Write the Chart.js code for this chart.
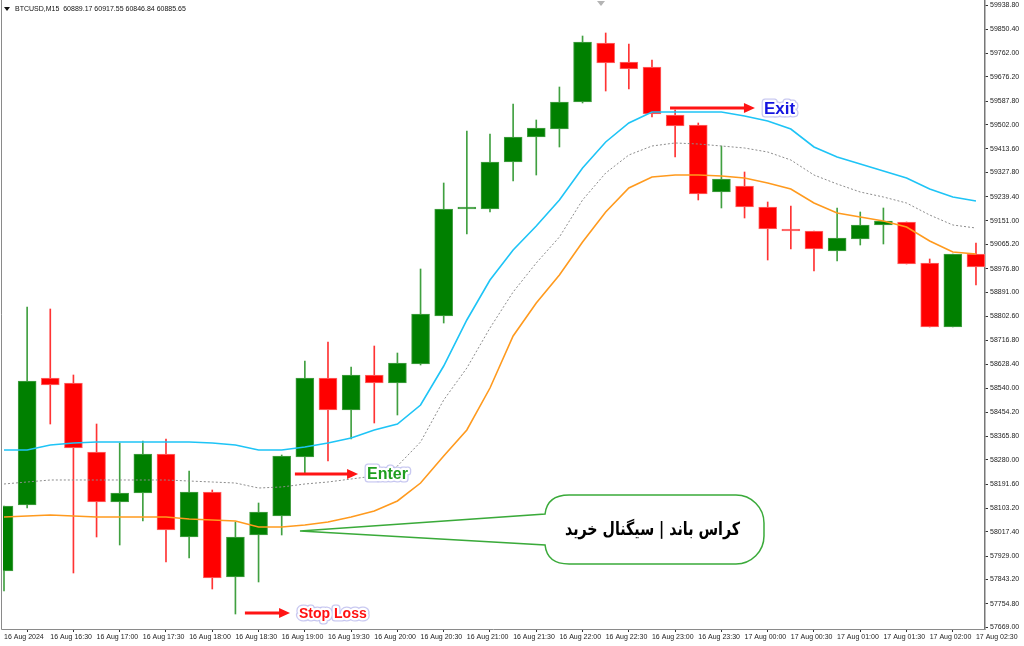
<!DOCTYPE html>
<html>
<head>
<meta charset="utf-8">
<script src="https://cdn.jsdelivr.net/npm/chart.js@4.4.1/dist/chart.umd.min.js"></script>
<style>
  html, body { margin: 0; padding: 0; background: #fff; }
  canvas { display: block; }
</style>
</head>
<body>
<canvas id="chart" width="1024" height="646"></canvas>
<script>
// BTCUSD M15 candles, 16 Aug 2024 16:00 -> 17 Aug 02:30
var opens  = [57874.4, 58115.1, 58578.3, 58560.1, 58308.4, 58126.0, 58158.9, 58301.1, 57998.4, 58162.5,
              57852.5, 58005.7, 58075.0, 58290.2, 58578.3, 58461.6, 58589.3, 58560.1, 58629.4, 58804.5,
              59194.7, 59194.7, 59366.2, 59457.3, 59486.5, 59585.0, 59800.2, 59730.9, 59712.7, 59537.6,
              59501.1, 59256.7, 59278.6, 59202.0, 59121.8, 59114.5, 59041.5, 59085.3, 59136.4, 59147.3,
              58997.8, 58764.3, 59030.6];
var highs  = [58111.5, 58837.3, 58830.0, 58589.3, 58410.5, 58341.2, 58348.5, 58355.8, 58239.1, 58169.8,
              58053.1, 58122.4, 58297.5, 58640.3, 58709.6, 58618.4, 58695.0, 58669.5, 58975.9, 59289.6,
              59479.2, 59468.3, 59577.7, 59519.4, 59639.7, 59825.7, 59836.7, 59796.6, 59738.2, 59555.8,
              59508.4, 59424.5, 59329.7, 59220.3, 59205.7, 59114.5, 59198.4, 59183.8, 59198.4, 59147.3,
              59012.4, 59030.6, 59070.7];
var lows   = [57801.4, 58104.2, 58410.5, 57867.1, 57998.4, 57969.2, 58056.7, 57907.2, 57921.8, 57808.7,
              57717.5, 57834.3, 58005.7, 58231.8, 58275.6, 58355.8, 58414.2, 58443.4, 58625.7, 58778.9,
              59103.5, 59183.8, 59296.9, 59318.7, 59420.9, 59581.4, 59625.1, 59632.4, 59530.3, 59384.4,
              59227.6, 59198.4, 59161.9, 59008.7, 59048.8, 58968.6, 59005.1, 59063.4, 59067.1, 58994.1,
              58764.3, 58764.3, 58917.5];
var closes = [58111.5, 58567.4, 58552.8, 58323.0, 58126.0, 58158.9, 58301.1, 58023.9, 58162.5, 57848.8,
              57998.4, 58089.6, 58293.8, 58578.3, 58461.6, 58589.3, 58560.1, 58633.0, 58811.8, 59194.7,
              59202.0, 59366.2, 59457.3, 59490.2, 59585.0, 59803.8, 59727.3, 59705.4, 59541.2, 59497.5,
              59249.4, 59304.2, 59202.0, 59121.8, 59114.5, 59048.8, 59089.0, 59136.4, 59151.0, 58994.1,
              58764.3, 59030.6, 58983.2];

// bands
var upperBand  = [58315.7, 58315.7, 58333.9, 58341.2, 58344.9, 58344.9, 58344.9, 58344.9, 58344.9, 58341.2,
                  58333.9, 58315.7, 58315.7, 58326.7, 58341.2, 58359.5, 58388.7, 58410.5, 58479.8, 58622.1,
                  58789.9, 58935.8, 59045.2, 59132.7, 59227.6, 59344.3, 59439.1, 59508.4, 59548.5, 59548.5,
                  59548.5, 59548.5, 59533.9, 59515.7, 59486.5, 59420.9, 59384.4, 59358.9, 59333.3, 59307.8,
                  59267.7, 59238.5, 59223.9];
var middleBand = [58191.7, 58199.0, 58206.3, 58206.3, 58206.3, 58206.3, 58206.3, 58206.3, 58202.6, 58199.0,
                  58195.3, 58177.1, 58180.8, 58191.7, 58199.0, 58209.9, 58220.9, 58257.3, 58344.9, 58498.1,
                  58614.8, 58760.7, 58892.0, 58997.8, 59092.6, 59227.6, 59326.0, 59391.7, 59424.5, 59435.5,
                  59431.8, 59424.5, 59417.2, 59402.6, 59373.5, 59318.7, 59285.9, 59256.7, 59238.5, 59216.6,
                  59172.8, 59136.4, 59125.4];
var lowerBand  = [58071.3, 58075.0, 58078.6, 58075.0, 58071.3, 58071.3, 58071.3, 58071.3, 58064.0, 58060.4,
                  58056.7, 58034.9, 58034.9, 58042.2, 58053.1, 58071.3, 58093.2, 58129.7, 58195.3, 58293.8,
                  58388.7, 58541.8, 58731.5, 58851.9, 58954.0, 59074.4, 59183.8, 59271.3, 59311.4, 59318.7,
                  59318.7, 59315.1, 59307.8, 59289.6, 59267.7, 59216.6, 59180.1, 59165.6, 59151.0, 59129.1,
                  59078.0, 59037.9, 59030.6];

// one label every 2 bars (30 min)
var timeLabels = ['16 Aug 2024', '16 Aug 16:30', '16 Aug 17:00', '16 Aug 17:30', '16 Aug 18:00', '16 Aug 18:30',
                  '16 Aug 19:00', '16 Aug 19:30', '16 Aug 20:00', '16 Aug 20:30', '16 Aug 21:00', '16 Aug 21:30',
                  '16 Aug 22:00', '16 Aug 22:30', '16 Aug 23:00', '16 Aug 23:30', '17 Aug 00:00', '17 Aug 00:30',
                  '17 Aug 01:00', '17 Aug 01:30', '17 Aug 02:00', '17 Aug 02:30'];
var priceTicks = [59938.80, 59850.40, 59762.00, 59676.20, 59587.80, 59502.00, 59413.60, 59327.80, 59239.40,
                  59151.00, 59065.20, 58976.80, 58891.00, 58802.60, 58716.80, 58628.40, 58540.00, 58454.20,
                  58365.80, 58280.00, 58191.60, 58103.20, 58017.40, 57929.00, 57843.20, 57754.80, 57669.00];

var headerText = 'BTCUSD,M15  60889.17 60917.55 60846.84 60885.65';

// arrows + labels, placed in bar index / price units
var notes = [
    { text: 'Enter', color: '#1f9e1f', size: 16, from: 12.57, to: 15.3, price: 58228 },
    { text: 'Exit', color: '#1515e0', size: 17, from: 28.78, to: 32.45, price: 59563 },
    { text: 'Stop Loss', color: '#ff1010', size: 14, from: 10.41, to: 12.36, price: 57721 }
];
var callout = { text: 'کراس باند | سیگنال خرید', tipX: 12.79, tipPrice: 58020,
                left: 23.38, right: 32.84, top: 58151.6, bottom: 57899.9 };

var UP = '#008000', DOWN = '#ff0000';
function isUp(i) { return closes[i] >= opens[i]; }

var wickData = [], bodyData = [];
for (var i = 0; i < opens.length; i++) {
    wickData.push({ x: i, y: [lows[i], highs[i]] });
    bodyData.push({ x: i, y: [opens[i], closes[i]] });
}
function band(arr) { return arr.map(function (v, i) { return { x: i, y: v }; }); }

Chart.defaults.font.family = '"Liberation Sans", Arial, sans-serif';
Chart.defaults.font.size = 7;
Chart.defaults.color = '#222';

var overlay = {
    id: 'overlay',
    afterDatasetsDraw: function (chart) {
        var c = chart.ctx, xs = chart.scales.x, ys = chart.scales.y;
        c.save();

        // speech bubble
        var L = xs.getPixelForValue(callout.left), R = xs.getPixelForValue(callout.right);
        var T = ys.getPixelForValue(callout.top), B = ys.getPixelForValue(callout.bottom);
        var tx = xs.getPixelForValue(callout.tipX), ty = ys.getPixelForValue(callout.tipPrice);
        var r = 28, j = 19;
        c.beginPath();
        c.moveTo(tx, ty);
        c.lineTo(L, T + j);
        c.quadraticCurveTo(L + 2, T, L + 24, T);
        c.lineTo(R - r, T);
        c.arcTo(R, T, R, (T + B) / 2, r);
        c.arcTo(R, B, R - r, B, r);
        c.lineTo(L + 24, B);
        c.quadraticCurveTo(L + 2, B, L, B - j);
        c.closePath();
        c.fillStyle = '#fff';
        c.fill();
        c.strokeStyle = '#3aaa3a';
        c.lineWidth = 1.5;
        c.stroke();

        // text squeezed to fit like the original
        c.fillStyle = '#000';
        c.font = 'bold 18px "DejaVu Sans"';
        c.textAlign = 'center';
        c.textBaseline = 'middle';
        c.direction = 'rtl';
        var w = c.measureText(callout.text).width;
        var k = Math.min(1, (R - L) * 0.8 / w);
        c.save();
        c.translate((L + R) / 2 - 2, (T + B) / 2 + 1);
        c.scale(k, 1);
        c.fillText(callout.text, 0, 0);
        c.restore();
        c.direction = 'ltr';

        // arrows with labels
        notes.forEach(function (n) {
            var x1 = xs.getPixelForValue(n.from), x2 = xs.getPixelForValue(n.to);
            var y = ys.getPixelForValue(n.price);
            c.strokeStyle = '#ff1414';
            c.fillStyle = '#ff1414';
            c.lineWidth = 3;
            c.beginPath();
            c.moveTo(x1, y);
            c.lineTo(x2 - 8, y);
            c.stroke();
            c.beginPath();
            c.moveTo(x2 - 11, y - 5);
            c.lineTo(x2, y);
            c.lineTo(x2 - 11, y + 5);
            c.closePath();
            c.fill();

            c.font = 'bold ' + n.size + 'px "Liberation Sans", Arial';
            c.textAlign = 'left';
            c.textBaseline = 'middle';
            c.lineJoin = 'round';
            var lx = x2 + 9, ly = y + 1;
            c.strokeStyle = 'rgba(195,195,240,0.9)';
            c.lineWidth = 7;
            c.strokeText(n.text, lx, ly);
            c.strokeStyle = '#fff';
            c.lineWidth = 4.5;
            c.strokeText(n.text, lx, ly);
            c.fillStyle = n.color;
            c.fillText(n.text, lx, ly);
        });
        c.restore();
    },
    afterDraw: function (chart) {
        var c = chart.ctx, a = chart.chartArea;
        c.save();
        // frame
        c.strokeStyle = '#8a8a8a';
        c.lineWidth = 1;
        c.beginPath();
        c.moveTo(1.5, 0);
        c.lineTo(1.5, a.bottom + 0.5);
        c.lineTo(a.right + 0.5, a.bottom + 0.5);
        c.stroke();
        // header
        c.fillStyle = '#111';
        c.beginPath();
        c.moveTo(4, 7); c.lineTo(10, 7); c.lineTo(7, 11);
        c.closePath();
        c.fill();
        c.font = '7px "Liberation Sans", Arial';
        c.textAlign = 'left';
        c.textBaseline = 'middle';
        c.fillText(headerText, 15, 9);
        // shift marker
        c.fillStyle = '#b4b4b4';
        c.beginPath();
        c.moveTo(597, 1); c.lineTo(605, 1); c.lineTo(601, 6);
        c.closePath();
        c.fill();
        c.restore();
    }
};

var ctx = document.getElementById('chart').getContext('2d');
var chart = new Chart(ctx, {
    type: 'bar',
    data: {
        datasets: [
            {
                label: 'Bollinger upper',
                type: 'line',
                data: band(upperBand),
                borderColor: '#1ec4f6',
                borderWidth: 1.6,
                pointRadius: 0,
                tension: 0,
                order: 0
            },
            {
                label: 'Bollinger middle',
                type: 'line',
                data: band(middleBand),
                borderColor: '#8c8c8c',
                borderWidth: 1,
                borderDash: [2, 2],
                pointRadius: 0,
                tension: 0,
                order: 0
            },
            {
                label: 'Bollinger lower',
                type: 'line',
                data: band(lowerBand),
                borderColor: '#ff9a1e',
                borderWidth: 1.6,
                pointRadius: 0,
                tension: 0,
                order: 0
            },
            {
                label: 'Body',
                data: bodyData,
                grouped: false,
                barThickness: 18,
                borderSkipped: false,
                borderWidth: 1,
                backgroundColor: function (c) { return isUp(c.dataIndex) ? UP : DOWN; },
                borderColor: function (c) { return isUp(c.dataIndex) ? '#47a047' : '#ff6a6a'; },
                clip: { left: 0, top: 0, right: 0, bottom: 0 },
                order: 1
            },
            {
                label: 'Wick',
                data: wickData,
                grouped: false,
                barThickness: 1,
                borderWidth: 0,
                backgroundColor: function (c) { return isUp(c.dataIndex) ? 'rgba(0,128,0,0.75)' : 'rgba(255,0,0,0.8)'; },
                order: 2
            }
        ]
    },
    options: {
        responsive: false,
        animation: false,
        events: [],
        layout: { padding: { left: 3, top: 1, right: 0, bottom: 0 } },
        plugins: { legend: { display: false }, tooltip: { enabled: false } },
        scales: {
            x: {
                type: 'linear',
                min: -0.043,
                max: 42.39,
                offset: false,
                border: { display: false },
                grid: { drawOnChartArea: false, drawTicks: true, tickLength: 3, color: '#333' },
                ticks: {
                    autoSkip: false,
                    maxRotation: 0,
                    align: 'start',
                    padding: 1,
                    callback: function (v) { return timeLabels[v / 2]; }
                },
                afterBuildTicks: function (s) {
                    s.ticks = timeLabels.map(function (t, k) { return { value: k * 2 }; });
                },
                afterFit: function (s) { s.height = 17; s.paddingLeft = 0; s.paddingRight = 0; }
            },
            y: {
                position: 'right',
                min: 57662.82,
                max: 59953.39,
                border: { display: true, color: '#777', width: 1.5 },
                grid: { drawOnChartArea: false, drawTicks: true, tickLength: 3, color: '#333' },
                ticks: {
                    autoSkip: false,
                    padding: 2,
                    callback: function (v) { return v.toFixed(2); }
                },
                afterBuildTicks: function (s) {
                    s.ticks = priceTicks.map(function (v) { return { value: v }; });
                },
                afterFit: function (s) { s.width = 39; s.paddingTop = 0; s.paddingBottom = 0; }
            }
        }
    },
    plugins: [overlay]
});
</script>
</body>
</html>
